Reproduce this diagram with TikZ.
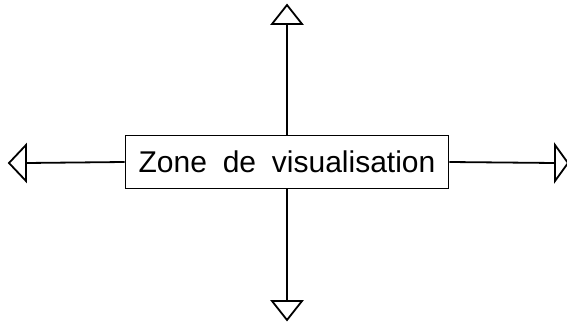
\documentclass[tikz,border=0pt]{standalone}
\usepackage{fontspec}
\setmainfont{Liberation Sans}
\begin{document}
\begin{tikzpicture}[x=1pt,y=-1pt,line width=1.8pt,
  zone/.style={draw,minimum width=323pt,minimum height=53pt,inner sep=0pt,font=\fontsize{30}{36}\selectfont},
  tri/.style={draw,line join=miter}]
\useasboundingbox (0,0) rectangle (567,323);
\node[zone] (z) at (287,162) {Zone\hspace{0.25em} de\hspace{0.25em} visualisation};
\coordinate (lb) at (26,163);
\coordinate (rb) at (555,163);
\coordinate (tb) at (287,24);
\coordinate (bb) at (287,301);
\draw (z.west) -- (lb);
\draw (z.east) -- (rb);
\draw (z.north) -- (tb);
\draw (z.south) -- (bb);
\draw[tri] (26,145) -- (9,163) -- (26,181) -- cycle;
\draw[tri] (555,145) -- (568,163) -- (555,181) -- cycle;
\draw[tri] (272,24) -- (287,5) -- (302,24) -- cycle;
\draw[tri] (272,301) -- (287,320) -- (302,301) -- cycle;
\end{tikzpicture}
\end{document}
